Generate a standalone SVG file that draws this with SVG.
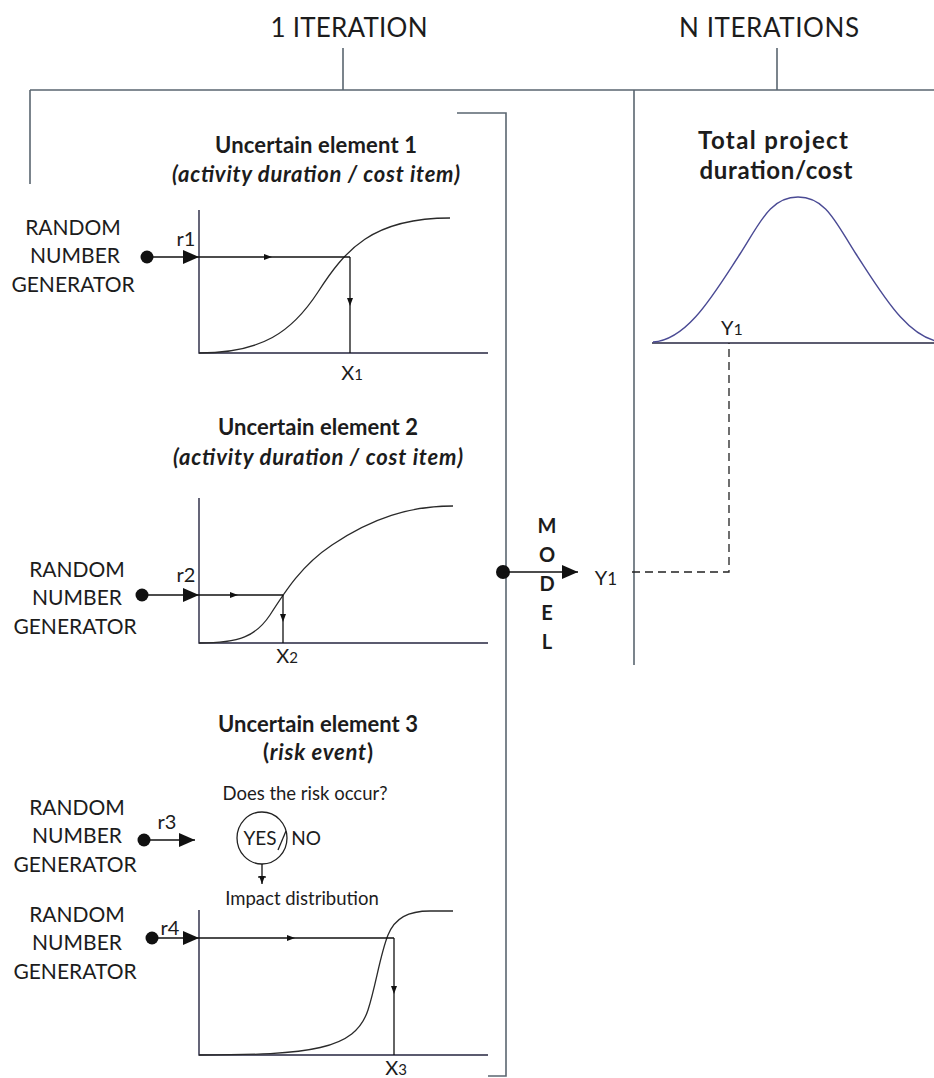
<svg xmlns="http://www.w3.org/2000/svg" width="934" height="1078" viewBox="0 0 934 1078">
  <style>
    text { font-family: Lato, "Open Sans", "Liberation Sans", sans-serif; fill: #1c1c1c; }
    .head { font-size: 26px; text-anchor: middle; }
    .title { font-size: 22px; font-weight: bold; text-anchor: middle; }
    .ttl2 { font-size: 24px; font-weight: bold; text-anchor: middle; }
    .rng { font-size: 21px; text-anchor: middle; }
    .lbl { font-size: 20px; text-anchor: middle; }
    .small { font-size: 18.5px; text-anchor: middle; }
    .yn { font-size: 19px; text-anchor: middle; }
    .model { font-size: 20px; font-weight: bold; text-anchor: middle; }
    .frame { fill: none; stroke: #5a6670; stroke-width: 1.6; }
    .axis { fill: none; stroke: #262640; stroke-width: 1.4; }
    .curve { fill: none; stroke: #2a2a2a; stroke-width: 1.3; }
    .bell { fill: none; stroke: #4a4a94; stroke-width: 1.4; }
    .flow { fill: none; stroke: #111; stroke-width: 1.3; }
    .dash { fill: none; stroke: #222; stroke-width: 1.3; stroke-dasharray: 8 5; }
    .dot { fill: #111; }
  </style>
  <defs>
    <marker id="big" markerUnits="userSpaceOnUse" markerWidth="18" markerHeight="16" refX="16" refY="7" orient="auto">
      <path d="M0,0 L16,7 L0,14 z" fill="#111"/>
    </marker>
    <marker id="mid" markerUnits="userSpaceOnUse" markerWidth="10" markerHeight="8" refX="4" refY="3" orient="auto">
      <path d="M0,0 L8,3 L0,6 z" fill="#111"/>
    </marker>
    <marker id="tip" markerUnits="userSpaceOnUse" markerWidth="10" markerHeight="8" refX="8" refY="3" orient="auto">
      <path d="M0,0 L8,3 L0,6 z" fill="#111"/>
    </marker>
  </defs>

  <!-- headers and frame -->
  <g id="header">
    <text class="head" x="349" y="37" textLength="157">1 ITERATION</text>
    <text class="head" x="769" y="37" textLength="180">N  ITERATIONS</text>
  </g>
  <g id="frame">
    <path class="frame" d="M343,48 V90 M777,48 V90 M30,90 H934 M30,90 V184 M634,90 V665"/>
    <path class="frame" d="M457,113 H506 V1076 H488"/>
  </g>

  <!-- element 1 -->
  <g id="element1">
    <text class="title" x="316" y="153" textLength="202">Uncertain element 1</text>
    <text class="title" x="316" y="182" font-style="italic" textLength="288">(activity duration / cost item)</text>
    <text class="rng" x="73" y="235">RANDOM</text>
    <text class="rng" x="75" y="263">NUMBER</text>
    <text class="rng" x="73" y="292">GENERATOR</text>
    <text class="lbl" x="186" y="246">r1</text>
    <path class="axis" d="M199,210 V353 H488"/>
    <path class="curve" d="M199,353 C262,353 292,332 318,292 C345,250 372,218 450,218"/>
    <text class="lbl" x="352" y="380">X<tspan font-size="15">1</tspan></text>
  </g>

  <!-- element 2 -->
  <g id="element2">
    <text class="title" x="318" y="435" textLength="200">Uncertain element 2</text>
    <text class="title" x="318" y="465" font-style="italic" textLength="290">(activity duration / cost item)</text>
    <text class="rng" x="77" y="577">RANDOM</text>
    <text class="rng" x="77" y="605">NUMBER</text>
    <text class="rng" x="75" y="634">GENERATOR</text>
    <text class="lbl" x="186" y="582">r2</text>
    <path class="axis" d="M199,498 V643 H488"/>
    <path class="curve" d="M199,643 C240,643 256,636 270,615 C286,590 302,565 332,545 C372,518 410,506 453,506"/>
    <text class="lbl" x="287" y="663">X<tspan font-size="15">2</tspan></text>
  </g>

  <!-- element 3 -->
  <g id="element3">
    <text class="title" x="318" y="732" textLength="200">Uncertain element 3</text>
    <text class="title" x="318" y="760" textLength="110">(<tspan font-style="italic">risk event</tspan>)</text>
    <text class="small" x="305" y="800">Does the risk occur?</text>
    <ellipse cx="262" cy="838" rx="25" ry="26" fill="none" stroke="#222" stroke-width="1.3"/>
    <text class="yn" x="260" y="845">YES</text>
    <line x1="278" y1="850" x2="286" y2="831" stroke="#222" stroke-width="1.3"/>
    <text class="yn" x="306" y="845">NO</text>
    <text class="small" x="302" y="905">Impact distribution</text>
    <text class="rng" x="77" y="815">RANDOM</text>
    <text class="rng" x="77" y="843">NUMBER</text>
    <text class="rng" x="75" y="872">GENERATOR</text>
    <text class="lbl" x="167" y="829">r3</text>
    <text class="rng" x="77" y="922">RANDOM</text>
    <text class="rng" x="77" y="950">NUMBER</text>
    <text class="rng" x="75" y="979">GENERATOR</text>
    <text class="lbl" x="170" y="935">r4</text>
    <path class="axis" d="M199,910 V1055 H488"/>
    <path class="curve" d="M199,1055 C310,1055 355,1050 368,1010 C376,985 380,955 388,935 C395,918 408,911 430,911 L453,911"/>
    <text class="lbl" x="396" y="1075">X<tspan font-size="15">3</tspan></text>
  </g>

  <!-- model and total result -->
  <g id="model">
    <text class="model" x="547" y="533">M</text>
    <text class="model" x="547" y="562">O</text>
    <text class="model" x="547" y="591">D</text>
    <text class="model" x="547" y="620">E</text>
    <text class="model" x="547" y="649">L</text>
    <text class="lbl" x="606" y="585" font-size="25">Y<tspan font-size="17">1</tspan></text>
  </g>
  <g id="total">
    <text class="ttl2" x="773" y="149" textLength="150">Total project</text>
    <text class="ttl2" x="776" y="179" textLength="153">duration/cost</text>
    <path class="axis" d="M652,343 H934"/>
    <path class="bell" d="M653,342 C688,340 715,292 740,254 C760,223 770,197 798,197 C826,197 836,223 856,254 C881,292 908,340 943,342"/>
    <text class="lbl" x="732" y="335" font-size="23">Y<tspan font-size="16">1</tspan></text>
  </g>

  <!-- connectors -->
  <g id="connectors">
    <circle class="dot" cx="147" cy="257" r="6.5"/>
    <line class="flow" x1="147" y1="257" x2="199" y2="257" marker-end="url(#big)"/>
    <polyline class="flow" points="199,257 268,257 350,257" marker-mid="url(#mid)"/>
    <polyline class="flow" points="350,257 350,302 350,353" marker-mid="url(#mid)"/>

    <circle class="dot" cx="142" cy="595" r="6.5"/>
    <line class="flow" x1="142" y1="595" x2="199" y2="595" marker-end="url(#big)"/>
    <polyline class="flow" points="199,595 234,595 283,595" marker-mid="url(#mid)"/>
    <polyline class="flow" points="283,595 283,618 283,643" marker-mid="url(#mid)"/>

    <circle class="dot" cx="144" cy="840" r="6.5"/>
    <line class="flow" x1="144" y1="840" x2="195" y2="840" marker-end="url(#big)"/>
    <line class="flow" x1="262" y1="864" x2="262" y2="884" marker-end="url(#tip)"/>
    <line class="flow" x1="258" y1="877" x2="266" y2="877"/>

    <circle class="dot" cx="152" cy="938" r="6.5"/>
    <line class="flow" x1="152" y1="938" x2="199" y2="938" marker-end="url(#big)"/>
    <polyline class="flow" points="199,938 291,938 394,938" marker-mid="url(#mid)"/>
    <polyline class="flow" points="394,938 394,990 394,1055" marker-mid="url(#mid)"/>

    <circle class="dot" cx="503" cy="572" r="7"/>
    <line class="flow" x1="503" y1="572" x2="578" y2="572" marker-end="url(#big)"/>
    <path class="dash" d="M632,572 H729 V343"/>
  </g>
</svg>
